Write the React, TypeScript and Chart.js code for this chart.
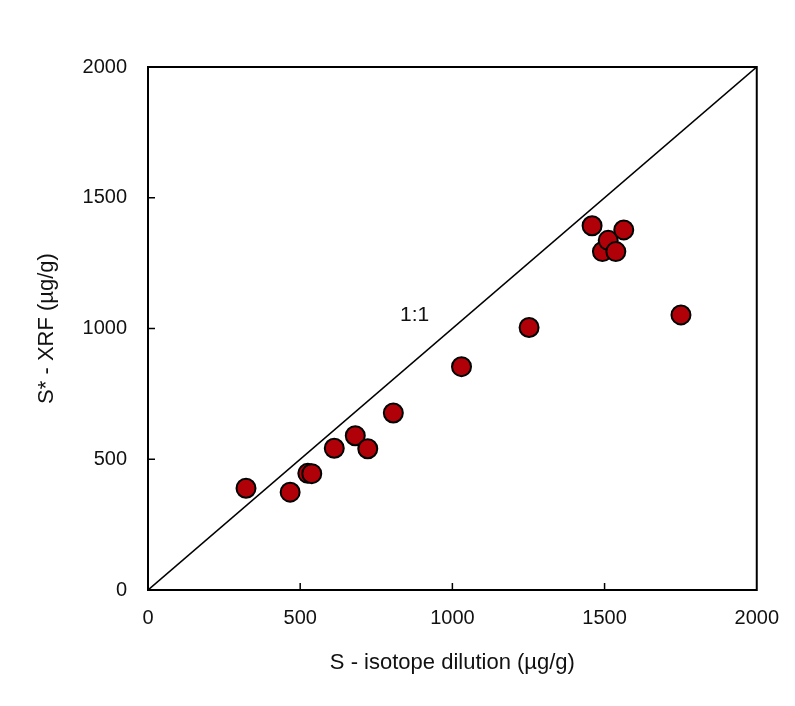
import React, { useEffect, useRef } from "react";
import { Chart, registerables } from "chart.js";

Chart.register(...registerables);

const isotopeDilution = [322, 467, 525, 538, 612, 681, 722, 806, 1030, 1252, 1459, 1493, 1512, 1537, 1563, 1751];
const xrfValues = [389, 374, 446, 445, 542, 590, 540, 677, 854, 1004, 1393, 1294, 1337, 1294, 1377, 1052];
const oneToOneX = [0, 2000];
const oneToOneY = [0, 2000];
const tickValues = [0, 500, 1000, 1500, 2000];
const lineLabel = "1:1";
const lineLabelAt = { x: 876, y: 1052 };

const FONT = "'Liberation Sans', Arial, Helvetica, sans-serif";

const framePlugin = {
  id: "frame",
  afterDatasetsDraw(chart: any) {
    const { ctx, chartArea, scales } = chart;
    const { left, right, top, bottom } = chartArea;
    ctx.save();
    ctx.strokeStyle = "#000";
    ctx.lineWidth = 1.5;
    const tl = 7;
    for (const v of tickValues.slice(1, -1)) {
      const px = scales.x.getPixelForValue(v);
      ctx.beginPath();
      ctx.moveTo(px, bottom);
      ctx.lineTo(px, bottom - tl);
      ctx.stroke();
      const py = scales.y.getPixelForValue(v);
      ctx.beginPath();
      ctx.moveTo(left, py);
      ctx.lineTo(left + tl, py);
      ctx.stroke();
    }
    ctx.lineWidth = 2;
    ctx.strokeRect(left, top, right - left, bottom - top);
    ctx.fillStyle = "#111";
    ctx.font = `21px ${FONT}`;
    ctx.textAlign = "center";
    ctx.textBaseline = "middle";
    ctx.fillText(lineLabel, scales.x.getPixelForValue(lineLabelAt.x), scales.y.getPixelForValue(lineLabelAt.y));
    ctx.restore();
  },
};

export default function App() {
  const ref = useRef<HTMLCanvasElement | null>(null);
  useEffect(() => {
    if (!ref.current) return;
    const chart = new Chart(ref.current, {
      type: "scatter",
      data: {
        datasets: [
          {
            label: "samples",
            data: isotopeDilution.map((x, i) => ({ x, y: xrfValues[i] })),
            backgroundColor: "#B00008",
            borderColor: "#000",
            borderWidth: 2,
            pointRadius: 9.5,
          },
          {
            label: "1:1",
            data: oneToOneX.map((x, i) => ({ x, y: oneToOneY[i] })),
            showLine: true,
            borderColor: "#000",
            borderWidth: 1.6,
            pointRadius: 0,
          },
        ],
      },
      options: {
        animation: false,
        responsive: false,
        maintainAspectRatio: false,
        layout: { padding: { left: 0, top: 67, right: 28, bottom: 0 } },
        plugins: { legend: { display: false }, tooltip: { enabled: false } },
        scales: {
          x: {
            type: "linear",
            min: 0,
            max: 2000,
            afterFit: (s: any) => { s.height = 116; },
            afterBuildTicks: (s: any) => { s.ticks = tickValues.map((v) => ({ value: v })); },
            grid: { display: false, drawTicks: false },
            border: { display: false },
            ticks: { color: "#111", font: { family: FONT, size: 20 }, padding: 16, maxRotation: 0, callback: (v: any) => String(v) },
            title: {
              display: true,
              text: "S - isotope dilution (µg/g)",
              color: "#111",
              font: { family: FONT, size: 22 },
              padding: { top: 0, bottom: 30 },
            },
          },
          y: {
            type: "linear",
            min: 0,
            max: 2000,
            afterFit: (s: any) => { s.width = 148; },
            afterBuildTicks: (s: any) => { s.ticks = tickValues.map((v) => ({ value: v })); },
            grid: { display: false, drawTicks: false },
            border: { display: false },
            ticks: { color: "#111", font: { family: FONT, size: 20 }, padding: 21, callback: (v: any) => String(v) },
            title: {
              display: true,
              text: "S* - XRF (µg/g)",
              color: "#111",
              font: { family: FONT, size: 22 },
              padding: { top: 34, bottom: 0 },
            },
          },
        },
      },
      plugins: [framePlugin],
    });
    return () => chart.destroy();
  }, []);
  return (
    <div style={{ position: "absolute", left: 0, top: 0, width: 795, height: 706, background: "#fff" }}>
      <canvas ref={ref} width={795} height={706} style={{ width: 795, height: 706, display: "block" }} />
    </div>
  );
}
